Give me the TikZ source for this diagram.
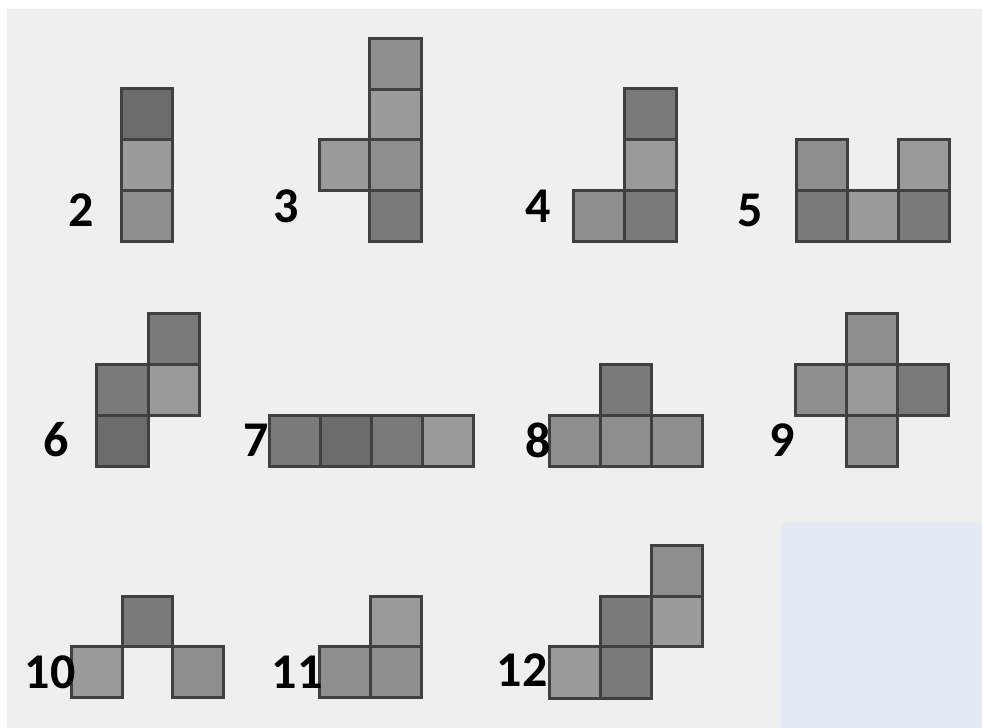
\documentclass[tikz,border=0pt]{standalone}
\usepackage{fontspec}
\setmainfont{Carlito}
\usetikzlibrary{positioning}

\definecolor{bgpage}{HTML}{EFEFEF}
\definecolor{bgblue}{HTML}{E4EAF4}
\definecolor{edge}{HTML}{404040}
\definecolor{tone1}{HTML}{6C6C6C}
\definecolor{tone2}{HTML}{7A7A7A}
\definecolor{tone3}{HTML}{8E8E8E}
\definecolor{tone4}{HTML}{9A9A9A}

\begin{document}
\begin{tikzpicture}[
  x=0.5pt, y=-0.5pt,
  sq/.style={draw=edge, line width=1.5pt},
  dk/.style={sq, fill=tone1},
  md/.style={sq, fill=tone2},
  lt/.style={sq, fill=tone3},
  pl/.style={sq, fill=tone4},
  num/.style={font=\bfseries\fontsize{25}{30}\selectfont, inner sep=0pt}
]
\useasboundingbox (0,0) rectangle (982,728);
\fill[white] (0,0) rectangle (982,728);
\fill[bgpage] (7,9) rectangle (982,728);
\fill[bgblue] (781,523) rectangle (982,728);

% first row
\draw[dk] (121,88) rectangle ++(51,51);
\draw[pl] (121,139) rectangle ++(51,51);
\draw[lt] (121,190) rectangle ++(51,51);

\draw[lt] (369,38) rectangle ++(52,51);
\draw[pl] (369,89) rectangle ++(52,50);
\draw[lt] (369,139) rectangle ++(52,51);
\draw[pl] (319,139) rectangle ++(50,51);
\draw[md] (369,190) rectangle ++(52,51);

\draw[md] (624,88) rectangle ++(52,51);
\draw[pl] (624,139) rectangle ++(52,51);
\draw[lt] (573,190) rectangle ++(51,51);
\draw[md] (624,190) rectangle ++(52,51);

\draw[lt] (796,139) rectangle ++(51,51);
\draw[pl] (898,139) rectangle ++(51,51);
\draw[md] (796,190) rectangle ++(51,51);
\draw[pl] (847,190) rectangle ++(51,51);
\draw[md] (898,190) rectangle ++(51,51);

% second row
\draw[md] (148,313) rectangle ++(51,51);
\draw[md] (96,364) rectangle ++(52,51);
\draw[pl] (148,364) rectangle ++(51,51);
\draw[dk] (96,415) rectangle ++(52,51);

\draw[md] (269,415) rectangle ++(51,51);
\draw[dk] (320,415) rectangle ++(51,51);
\draw[md] (371,415) rectangle ++(51,51);
\draw[pl] (422,415) rectangle ++(51,51);

\draw[md] (600,364) rectangle ++(51,51);
\draw[lt] (549,415) rectangle ++(51,51);
\draw[lt] (600,415) rectangle ++(51,51);
\draw[lt] (651,415) rectangle ++(51,51);

\draw[lt] (846,313) rectangle ++(51,51);
\draw[lt] (795,364) rectangle ++(51,51);
\draw[pl] (846,364) rectangle ++(51,51);
\draw[md] (897,364) rectangle ++(51,51);
\draw[lt] (846,415) rectangle ++(51,51);

% third row
\draw[md] (122,596) rectangle ++(50,50);
\draw[pl] (71,646) rectangle ++(51,51);
\draw[lt] (172,646) rectangle ++(51,51);

\draw[pl] (370,596) rectangle ++(51,50);
\draw[lt] (319,646) rectangle ++(51,51);
\draw[lt] (370,646) rectangle ++(51,51);

\draw[lt] (651,545) rectangle ++(51,51);
\draw[md] (600,596) rectangle ++(51,50);
\draw[pl] (651,596) rectangle ++(51,50);
\draw[pl] (549,646) rectangle ++(51,52);
\draw[md] (600,646) rectangle ++(51,52);

\node[num] (n2) at (81,210) {2};
\node[num] (n3) at (286,206) {3};
\node[num] (n4) at (538,206) {4};
\node[num] (n5) at (750,210) {5};
\node[num] (n6) at (56,440) {6};
\node[num] (n7) at (256,440) {7};
\node[num] (n8) at (538,440) {8};
\node[num] (n9) at (782,440) {9};
\node[num] (n10) at (50,672) {10};
\node[num] (n11) at (297,672) {11};
\node[num] (n12) at (522,670) {12};
\end{tikzpicture}
\end{document}
